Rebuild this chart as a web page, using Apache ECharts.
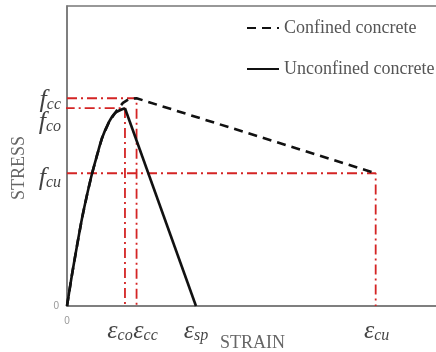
<!DOCTYPE html>
<html>
<head>
<meta charset="utf-8">
<script src="https://cdn.jsdelivr.net/npm/echarts@6/dist/echarts.min.js"></script>
<style>html,body{margin:0;padding:0;background:#fff}#c{width:436px;height:352px}</style>
</head>
<body>
<div id="c"></div>
<script>
// axis ranges (schematic units)
const xMax = 12.8;
const yMax = 45.2;
// key strains
const eco = 2.0, ecc = 2.4, esp = 4.45, ecu = 10.65;
// key stresses
const fco = 29.8, fcc = 31.3, fcu = 20.0;
// curves
const unconfinedAsc = [[0,0],[0.17,4.67],[0.35,9.19],[0.52,13.26],[0.69,16.73],[0.86,19.89],[1.04,22.76],[1.21,25.32],[1.45,27.73],[1.66,29.09],[eco,fco]];
const unconfinedDesc = [[eco,fco],[esp,0]];
const confined = [[0,0],[0.17,4.67],[0.35,9.19],[0.52,13.26],[0.69,16.73],[0.86,19.89],[1.04,22.76],[1.21,25.32],[1.45,27.73],[1.73,29.54],[1.93,30.6],[2.14,31.2],[ecc,fcc],[ecu,fcu]];
// labels
const seriesNames = ['Confined concrete','Unconfined concrete'];
const yLabels = [{k:'cc', v:fcc},{k:'co', v:fco},{k:'cu', v:fcu}];
const xLabels = [{k:'co', v:eco},{k:'cc', v:ecc},{k:'sp', v:esp},{k:'cu', v:ecu}];
const axisTitles = {x:'STRAIN', y:'STRESS'};

const serif = 'Liberation Serif';
const red = '#d42424';
const dashDot = [10,4,2,4];
const yOff = {cc:[-3,2], co:[-3,14], cu:[-3,5]};
const xOff = {co:[-5,25], cc:[9,25], sp:[0,25], cu:[1,25]};

const rich = {
  f:{fontFamily:serif,fontStyle:'italic',fontSize:26,color:'#111',lineHeight:26,verticalAlign:'middle'},
  e:{fontFamily:serif,fontStyle:'italic',fontSize:26,color:'#111',lineHeight:26,verticalAlign:'middle'},
  s:{fontFamily:serif,fontStyle:'italic',fontSize:16,color:'#111',lineHeight:12,verticalAlign:'bottom'}
};

const chart = echarts.init(document.getElementById('c'));
chart.setOption({
  animation:false,
  backgroundColor:'#fff',
  grid:{left:67,right:-2,top:6,bottom:46,show:true,borderColor:'#777',borderWidth:1.5,
    containLabel:false,outerBoundsMode:'none'},
  legend:{
    orient:'vertical',left:241,top:13,itemWidth:32,itemHeight:14,itemGap:21,
    data:seriesNames,
    itemStyle:{opacity:0},
    textStyle:{fontFamily:serif,fontSize:18,color:'#555',lineHeight:20}
  },
  xAxis:{
    type:'value',min:0,max:xMax,
    axisLine:{show:true,lineStyle:{color:'#777',width:1.5}},
    axisTick:{show:false},splitLine:{show:false},
    axisLabel:{customValues:[0],color:'#999',fontSize:10,margin:10},
    name:axisTitles.x,nameLocation:'middle',nameGap:28,
    nameTextStyle:{fontFamily:serif,fontSize:18,color:'#666'}
  },
  yAxis:{
    type:'value',min:0,max:yMax,
    axisLine:{show:true,lineStyle:{color:'#777',width:1.5}},
    axisTick:{show:false},splitLine:{show:false},
    axisLabel:{customValues:[0],color:'#999',fontSize:10,margin:8},
    name:axisTitles.y,nameLocation:'middle',nameGap:39,
    nameTextStyle:{fontFamily:serif,fontSize:18,color:'#666',padding:[0,24,0,0]}
  },
  series:[
    {type:'line',name:'ref-cc',data:[[0,fcc],[ecc,fcc],[ecc,0]],symbol:'none',z:1,silent:true,
      lineStyle:{color:red,width:1.8,type:dashDot}},
    {type:'line',name:'ref-co',data:[[-0.08,fco],[eco,fco],[eco,0]],symbol:'none',z:1,silent:true,clip:false,
      lineStyle:{color:red,width:1.8,type:dashDot}},
    {type:'line',name:'ref-cu',data:[[0,fcu],[ecu,fcu],[ecu,0]],symbol:'none',z:1,silent:true,
      lineStyle:{color:red,width:1.8,type:dashDot}},
    {type:'line',name:seriesNames[0],data:confined,symbol:'none',z:3,
      lineStyle:{color:'#111',width:2.6,type:[9,6]},itemStyle:{color:'#111'}},
    {type:'line',name:seriesNames[1],data:unconfinedAsc,symbol:'none',smooth:0.3,z:4,
      lineStyle:{color:'#111',width:2.6},itemStyle:{color:'#111'}},
    {type:'line',name:seriesNames[1],data:unconfinedDesc,symbol:'none',z:4,
      lineStyle:{color:'#111',width:2.6},itemStyle:{color:'#111'}},
    {type:'scatter',name:'ylab',symbolSize:0,clip:false,silent:true,z:5,
      data:yLabels.map(d=>({value:[0,d.v],label:{show:true,position:'left',distance:3,offset:yOff[d.k],
        formatter:'{f|f}{s|'+d.k+'}',rich:rich}}))},
    {type:'scatter',name:'xlab',symbolSize:0,clip:false,silent:true,z:5,
      data:xLabels.map(d=>({value:[d.v,0],label:{show:true,position:'inside',offset:xOff[d.k],
        formatter:'{e|ε}{s|'+d.k+'}',rich:rich}}))}
  ]
});
</script>
</body>
</html>
